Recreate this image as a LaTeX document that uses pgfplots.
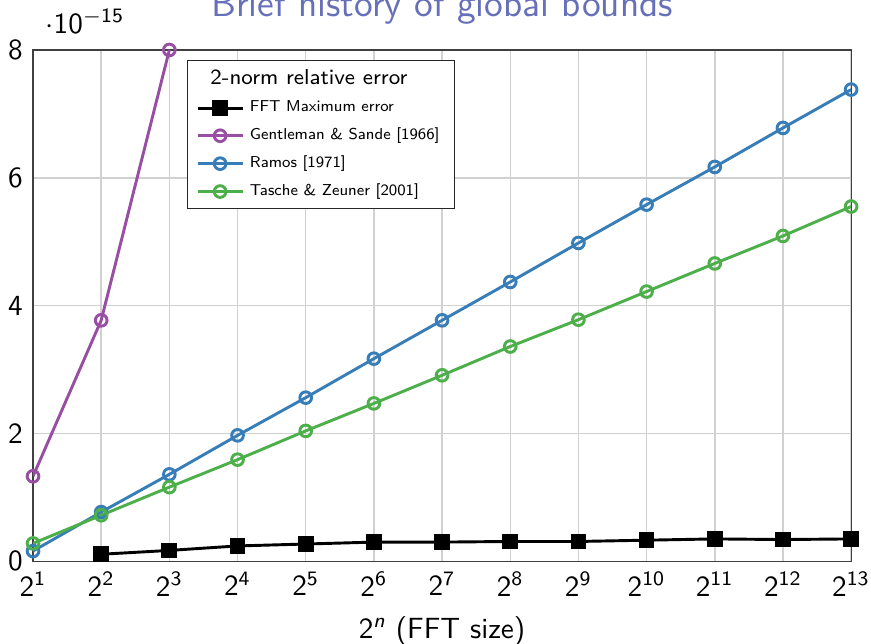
\documentclass[border=0pt]{standalone}
\usepackage{pgfplots}
\pgfplotsset{compat=1.18}
\renewcommand\familydefault{\sfdefault}

\definecolor{gspurple}{RGB}{152,78,163}
\definecolor{ramosblue}{RGB}{55,126,184}
\definecolor{tzgreen}{RGB}{77,175,74}
\definecolor{titlecol}{RGB}{102,112,184}

\newcommand{\pw}[1]{2\textsuperscript{#1}}

\begin{document}
\begin{tikzpicture}
% values are given in units of 10^-15
\begin{axis}[
  name=main,
  scale only axis,
  width=280pt, height=175pt,
  xmin=1, xmax=13,
  ymin=0, ymax=8,
  xtick={1,...,13},
  xticklabels={\pw{1},\pw{2},\pw{3},\pw{4},\pw{5},\pw{6},\pw{7},\pw{8},\pw{9},\pw{10},\pw{11},\pw{12},\pw{13}},
  ytick={0,2,4,6,8},
  /pgf/number format/assume math mode=true,
  grid=major,
  major grid style={black!18, line width=0.5pt},
  major tick length=0pt,
  axis line style={black!75},
  tick label style={font=\normalsize},
  xlabel={2\textsuperscript{\textit{n}} (FFT size)},
  title={Brief history of global bounds},
  title style={at={(0.5,1)}, anchor=base, yshift=5.4pt, font=\fontsize{13.1}{15}\selectfont, text=titlecol},
  legend cell align=left,
  legend image code/.code={%
    \draw[mark repeat=2, mark phase=2] plot coordinates {(0pt,0pt) (7.7pt,0pt) (15.4pt,0pt)};},
  legend style={at={(0.188,0.98)}, anchor=north west,
    font=\fontsize{5.4}{6.4}\selectfont, draw=black!85, row sep=0pt,
    inner xsep=3pt, inner ysep=1pt},
  every axis plot/.append style={line width=1pt},
]
\addlegendimage{empty legend}
\addlegendentry{\hspace{-13.5pt}\fontsize{7.4}{8.8}\selectfont 2-norm relative error}

\addplot[black, mark=square*, mark size=2.2pt] coordinates {
  (2,0.11) (3,0.17) (4,0.24) (5,0.27) (6,0.30) (7,0.30)
  (8,0.31) (9,0.31) (10,0.33) (11,0.35) (12,0.34) (13,0.35)};
\addlegendentry{FFT Maximum error}

\addplot[gspurple, mark=o, mark size=2pt] coordinates {
  (1,1.33) (2,3.77) (3,8.0)};
\addlegendentry{Gentleman \& Sande [1966]}

\addplot[ramosblue, mark=o, mark size=2pt] coordinates {
  (1,0.16) (2,0.77) (3,1.36) (4,1.97) (5,2.56) (6,3.17) (7,3.77)
  (8,4.37) (9,4.98) (10,5.58) (11,6.17) (12,6.78) (13,7.38)};
\addlegendentry{Ramos [1971]}

\addplot[tzgreen, mark=o, mark size=2pt] coordinates {
  (1,0.28) (2,0.72) (3,1.16) (4,1.59) (5,2.04) (6,2.47) (7,2.91)
  (8,3.36) (9,3.78) (10,4.22) (11,4.66) (12,5.09) (13,5.55)};
\addlegendentry{Tasche \& Zeuner [2001]}
\end{axis}
% common scale factor of the y axis
\node[anchor=base west, inner sep=0pt]
  at ([shift={(4.1pt,5.8pt)}]main.north west) {$\cdot$10\textsuperscript{$-$15}};
\pgfresetboundingbox
\path ([shift={(-11.3pt,-28pt)}]main.south west) rectangle ([shift={(6.8pt,17.1pt)}]main.north east);
\end{tikzpicture}
\end{document}
